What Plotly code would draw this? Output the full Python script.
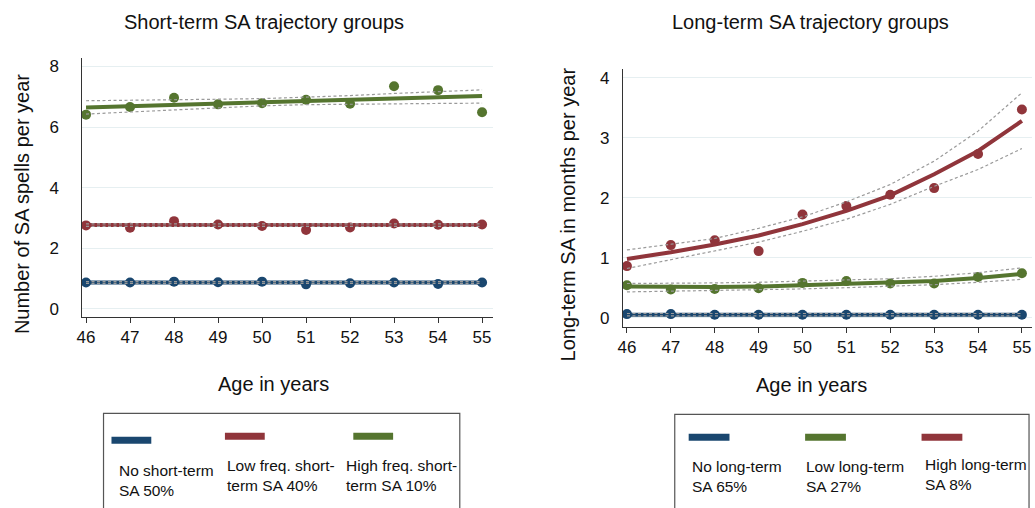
import plotly.graph_objects as go

W, H = 1035, 508

ages = [46, 47, 48, 49, 50, 51, 52, 53, 54, 55]

# Short-term panel (number of SA spells per year)
st_none_obs = [0.86, 0.86, 0.89, 0.87, 0.89, 0.80, 0.84, 0.86, 0.81, 0.86]
st_none_fit = [0.86] * 10
st_none_lo = [0.83] * 10
st_none_hi = [0.89] * 10

st_low_obs = [2.75, 2.67, 2.89, 2.78, 2.73, 2.60, 2.68, 2.81, 2.77, 2.78]
st_low_fit = [2.76] * 10
st_low_lo = [2.72] * 10
st_low_hi = [2.80] * 10

st_high_obs = [6.41, 6.66, 6.97, 6.75, 6.79, 6.90, 6.77, 7.35, 7.22, 6.49]
st_high_fit = [6.65, 6.69, 6.73, 6.78, 6.82, 6.86, 6.90, 6.94, 6.98, 7.03]
st_high_lo = [6.43, 6.50, 6.57, 6.64, 6.70, 6.74, 6.76, 6.77, 6.78, 6.79]
st_high_hi = [6.87, 6.88, 6.89, 6.92, 6.94, 6.98, 7.04, 7.11, 7.17, 7.23]

# Long-term panel (months of SA per year)
lt_none_obs = [0.06, 0.06, 0.05, 0.05, 0.05, 0.05, 0.05, 0.05, 0.05, 0.05]
lt_none_fit = [0.05] * 10
lt_none_lo = [0.03] * 10
lt_none_hi = [0.07] * 10

lt_low_obs = [0.54, 0.47, 0.48, 0.49, 0.58, 0.61, 0.57, 0.57, 0.68, 0.74]
lt_low_fit = [0.52, 0.51, 0.51, 0.52, 0.54, 0.56, 0.58, 0.61, 0.66, 0.73]
lt_low_lo = [0.43, 0.44, 0.45, 0.46, 0.48, 0.50, 0.52, 0.55, 0.59, 0.64]
lt_low_hi = [0.57, 0.57, 0.58, 0.59, 0.61, 0.63, 0.65, 0.69, 0.75, 0.83]

lt_high_obs = [0.86, 1.21, 1.29, 1.11, 1.72, 1.86, 2.05, 2.16, 2.73, 3.47]
lt_high_fit = [0.98, 1.09, 1.22, 1.37, 1.56, 1.78, 2.04, 2.39, 2.78, 3.28]
lt_high_lo = [0.82, 0.97, 1.11, 1.26, 1.44, 1.64, 1.89, 2.19, 2.47, 2.82]
lt_high_hi = [1.13, 1.22, 1.32, 1.49, 1.68, 1.93, 2.22, 2.61, 3.11, 3.75]

x_ticks = ages
st_y_ticks = [0, 2, 4, 6, 8]
lt_y_ticks = [0, 1, 2, 3, 4]

NAVY = "#1a476f"
MAROON = "#90353b"
GREEN = "#55752f"
CI = "#9a9a9a"
GRID = "#e6eff1"
FONT = "Liberation Sans, Arial, sans-serif"

st_legend = [("No short-term<br>SA 50%", NAVY), ("Low freq. short-<br>term SA 40%", MAROON),
             ("High freq. short-<br>term SA 10%", GREEN)]
lt_legend = [("No long-term<br>SA 65%", NAVY), ("Low long-term<br>SA 27%", GREEN),
             ("High long-term<br>SA 8%", MAROON)]

fig = go.Figure()


def add_group(xa, ya, obs, fit, lo, hi, color):
    fig.add_trace(go.Scatter(x=ages, y=obs, mode="markers", xaxis=xa, yaxis=ya,
                             marker=dict(color=color, size=10), showlegend=False))
    fig.add_trace(go.Scatter(x=ages, y=fit, mode="lines", xaxis=xa, yaxis=ya,
                             line=dict(color=color, width=4), showlegend=False))
    for band in (lo, hi):
        fig.add_trace(go.Scatter(x=ages, y=band, mode="lines", xaxis=xa, yaxis=ya,
                                 line=dict(color=CI, width=1.2, dash="3px,2.5px"),
                                 showlegend=False))


add_group("x", "y", st_none_obs, st_none_fit, st_none_lo, st_none_hi, NAVY)
add_group("x", "y", st_low_obs, st_low_fit, st_low_lo, st_low_hi, MAROON)
add_group("x", "y", st_high_obs, st_high_fit, st_high_lo, st_high_hi, GREEN)

add_group("x2", "y2", lt_none_obs, lt_none_fit, lt_none_lo, lt_none_hi, NAVY)
add_group("x2", "y2", lt_low_obs, lt_low_fit, lt_low_lo, lt_low_hi, GREEN)
add_group("x2", "y2", lt_high_obs, lt_high_fit, lt_high_lo, lt_high_hi, MAROON)


def px(x):
    return x / W


def py(y):
    return 1 - y / H


xcommon = dict(tickmode="array", tickvals=x_ticks, showgrid=False, zeroline=False,
               showline=True, linecolor="#333", linewidth=1.3, ticks="outside",
               ticklen=5, tickcolor="#333", tickfont=dict(size=17, color="#111", family=FONT))
ycommon = dict(tickmode="array", showgrid=True, gridcolor=GRID, gridwidth=1.3,
               zeroline=False, showline=True, linecolor="#333", linewidth=1.3,
               ticks="", tickfont=dict(size=17, color="#111", family=FONT))

fig.update_layout(
    width=W, height=H, margin=dict(l=0, r=0, t=0, b=0),
    paper_bgcolor="white", plot_bgcolor="white", showlegend=False,
    font=dict(family=FONT, color="#111"),
    xaxis=dict(domain=[px(77), px(490)], range=[45.9, 55.24], anchor="y", **xcommon),
    yaxis=dict(domain=[py(318), py(58)], range=[-0.27, 8.29], anchor="x",
               tickvals=st_y_ticks, ticklabelstandoff=18, **ycommon),
    xaxis2=dict(domain=[px(621), px(1032)], range=[45.91, 55.23], anchor="y2", **xcommon),
    yaxis2=dict(domain=[py(328), py(69)], range=[-0.15, 4.15], anchor="x2",
                tickvals=lt_y_ticks, ticklabelstandoff=9, **ycommon),
)

ann = []
ann.append(dict(text="Short-term SA trajectory groups", x=px(260), y=py(22), font=dict(size=20)))
ann.append(dict(text="Long-term SA trajectory groups", x=px(809), y=py(22), font=dict(size=20)))
ann.append(dict(text="Age in years", x=px(270), y=py(386), font=dict(size=20)))
ann.append(dict(text="Age in years", x=px(810), y=py(387), font=dict(size=20)))
ann.append(dict(text="Number of SA spells per year", x=px(17), y=py(205), textangle=-90,
                font=dict(size=20)))
ann.append(dict(text="Long-term SA in months per year", x=px(566), y=py(215), textangle=-90,
                font=dict(size=20)))

shapes = []
# legend boxes
shapes.append(dict(type="rect", xref="paper", yref="paper", x0=px(99), x1=px(457),
                   y0=py(512), y1=py(415), line=dict(color="#555", width=1.2)))
shapes.append(dict(type="rect", xref="paper", yref="paper", x0=px(673), x1=px(1029),
                   y0=py(512), y1=py(416), line=dict(color="#555", width=1.2)))

st_pos = [(107, 442, 113, 472), (221, 438, 221, 467), (350, 438, 341, 467)]
for (label, color), (bx, by, tx, ty) in zip(st_legend, st_pos):
    shapes.append(dict(type="rect", xref="paper", yref="paper", x0=px(bx), x1=px(bx + 40),
                       y0=py(by + 3.5), y1=py(by - 3.5), fillcolor=color, line=dict(width=0)))
    ann.append(dict(text=label, x=px(tx), y=py(ty - 10), xanchor="left", yanchor="top",
                    align="left", font=dict(size=15.5)))

lt_pos = [(687, 439, 688, 468), (804, 439, 803, 468), (921, 439, 922, 466)]
for (label, color), (bx, by, tx, ty) in zip(lt_legend, lt_pos):
    shapes.append(dict(type="rect", xref="paper", yref="paper", x0=px(bx), x1=px(bx + 41),
                       y0=py(by + 3.5), y1=py(by - 3.5), fillcolor=color, line=dict(width=0)))
    ann.append(dict(text=label, x=px(tx), y=py(ty - 10), xanchor="left", yanchor="top",
                    align="left", font=dict(size=15.5)))

for a in ann:
    a.setdefault("xref", "paper")
    a.setdefault("yref", "paper")
    a.setdefault("showarrow", False)
    a.setdefault("xanchor", "center")
    a.setdefault("yanchor", "middle")

fig.update_layout(annotations=ann, shapes=shapes)
fig.write_html("out.html")
